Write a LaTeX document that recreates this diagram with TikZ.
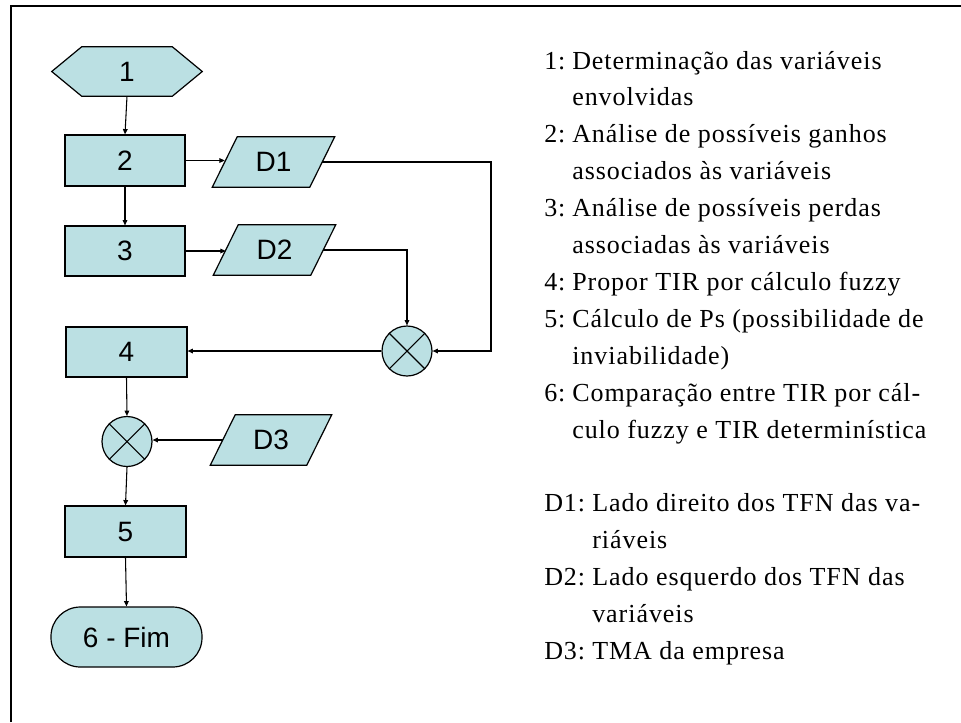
\documentclass[tikz,border=0pt]{standalone}
\usepackage{fontspec}
\setmainfont{Liberation Serif}
\newfontfamily\shapefont{Liberation Sans}
\newfontfamily\notefont[LetterSpace=3.7]{Liberation Serif}
\usetikzlibrary{arrows.meta}
\definecolor{boxfill}{RGB}{187,224,227}
\tikzset{
  shp/.style={inner sep=0, font=\shapefont\fontsize{21}{24}\selectfont},
  boxnode/.style={shp, draw, fill=boxfill, line width=0.9pt},
  hidden/.style={shp},
  xcirc/.style={circle, draw, fill=boxfill, line width=0.9pt, minimum size=37.5pt, inner sep=0},
  conn/.style={line width=0.8pt, -{Triangle[length=4pt,width=3.5pt]}},
  shapeline/.style={draw, fill=boxfill, line width=0.9pt},
  txt/.style={anchor=base west, inner sep=0, font=\notefont\fontsize{19.5}{22}\selectfont}
}
\begin{document}
\begin{tikzpicture}[x=0.75pt,y=-0.75pt]
\useasboundingbox (0,0) rectangle (961,722);
% frame
\draw[line width=1.5pt] (11.3,722) -- (11.3,5.5) -- (961,5.5);

% shapes
\node[hidden, minimum width=112.5pt, minimum height=36.75pt] (n1) at (127,71.5) {};
\path[shapeline] (n1.west) -- ([xshift=22.5pt]n1.north west) -- ([xshift=-22.5pt]n1.north east)
  -- (n1.east) -- ([xshift=-22.5pt]n1.south east) -- ([xshift=22.5pt]n1.south west) -- cycle;
\node[shp] at (n1) {1};

\node[boxnode, minimum width=90pt, minimum height=38.25pt] (n2) at (125,160.5) {2};
\node[boxnode, minimum width=90pt, minimum height=37.5pt] (n3) at (125,251) {3};
\node[boxnode, minimum width=90.75pt, minimum height=37.5pt] (n4) at (126.5,352) {4};
\node[boxnode, minimum width=90.75pt, minimum height=38.25pt] (n5) at (125.5,531.5) {5};
\node[boxnode, rounded corners=22pt, minimum width=113.25pt, minimum height=45pt] (n6) at (126.5,637) {6 - Fim};

\node[hidden, minimum width=72.75pt, minimum height=37.5pt] (d1) at (273.5,162) {};
\node[hidden, minimum width=72.75pt, minimum height=37.5pt] (d2) at (274.5,250) {};
\node[hidden, minimum width=72pt, minimum height=37.5pt] (d3) at (271,440) {};
\foreach \d/\t in {d1/D1,d2/D2,d3/D3}{
  \path[shapeline] ([xshift=-9.375pt]\d.south west) -- ([xshift=9.375pt]\d.north west)
    -- ([xshift=9.375pt]\d.north east) -- ([xshift=-9.375pt]\d.south east) -- cycle;
  \node[shp] at (\d) {\t};
}

\node[xcirc] (c1) at (407,351) {};
\node[xcirc] (c2) at (127,441.5) {};
\foreach \c in {c1,c2}{
  \draw[line width=0.8pt] (\c.north east) -- (\c.south west) (\c.north west) -- (\c.south east);
}

\coordinate (k1) at (491,163);

% connectors
\draw[conn] (n1.south) -- (n2.north);
\draw[conn] (n2.south) -- (n3.north);
\draw[conn] (n2.east) -- (n2.east -| d1.west);
\draw[conn] (n3.east) -- (n3.east -| d2.west);
\draw[conn] (d1.east) -- (d1.east -| k1) |- (c1.east);
\draw[conn] (d2.east) -| (c1.north);
\draw[conn] (c1.west) -- (c1.west -| n4.east);
\draw[conn] (n4.south) -- (c2.north);
\draw[conn] (d3.west) -- (d3.west -| c2.east);
\draw[conn] (c2.south) -- (n5.north);
\draw[conn] (n5.south) -- (n6.north);

% notes
\node[txt] (l1) at (544,69) {1:};
\node[txt] (t1a) at (572,69) {Determinação das variáveis};
\node[txt] (t1b) at (572,105.9) {envolvidas};
\node[txt] (l2) at (544,142.8) {2:};
\node[txt] (t2a) at (572,142.8) {Análise de possíveis ganhos};
\node[txt] (t2b) at (572,179.7) {associados às variáveis};
\node[txt] (l3) at (544,216.6) {3:};
\node[txt] (t3a) at (572,216.6) {Análise de possíveis perdas};
\node[txt] (t3b) at (572,253.5) {associadas às variáveis};
\node[txt] (l4) at (544,290.4) {4:};
\node[txt] (t4a) at (572,290.4) {Propor TIR por cálculo fuzzy};
\node[txt] (l5) at (544,327.3) {5:};
\node[txt] (t5a) at (572,327.3) {Cálculo de Ps (possibilidade de};
\node[txt] (t5b) at (572,364.2) {inviabilidade)};
\node[txt] (l6) at (544,401.1) {6:};
\node[txt] (t6a) at (572,401.1) {Comparação entre TIR por cál-};
\node[txt] (t6b) at (572,438) {culo fuzzy e TIR determinística};
\node[txt] (ld1) at (544,511.8) {D1:};
\node[txt] (td1a) at (592,511.8) {Lado direito dos TFN das va-};
\node[txt] (td1b) at (592,548.7) {riáveis};
\node[txt] (ld2) at (544,585.6) {D2:};
\node[txt] (td2a) at (592,585.6) {Lado esquerdo dos TFN das};
\node[txt] (td2b) at (592,622.5) {variáveis};
\node[txt] (ld3) at (544,659.4) {D3:};
\node[txt] (td3a) at (592,659.4) {TMA da empresa};
\end{tikzpicture}
\end{document}
